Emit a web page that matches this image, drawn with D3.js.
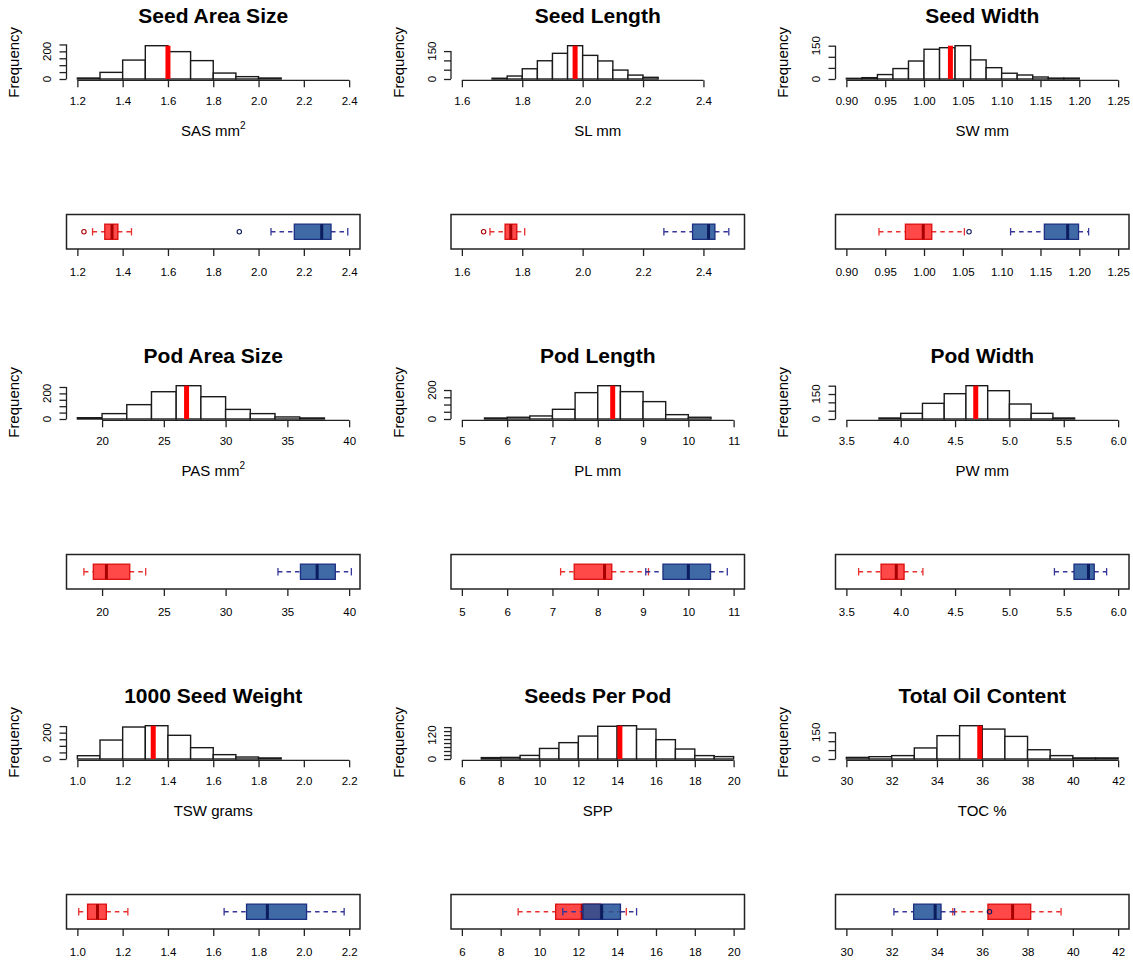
<!DOCTYPE html>
<html>
<head>
<meta charset="utf-8">
<title>Seed and pod traits</title>
<script src="https://cdn.jsdelivr.net/npm/d3@7/dist/d3.min.js"></script>
<style>
  body { margin: 0; background: #fff; }
  text { font-family: "Liberation Sans", Arial, Helvetica, sans-serif; fill: #000; }
</style>
</head>
<body>
<script>
// ---- data ----
const titles = ["Seed Area Size", "Seed Length", "Seed Width", "Pod Area Size", "Pod Length",
                "Pod Width", "1000 Seed Weight", "Seeds Per Pod", "Total Oil Content"];
const xTitles = ["SAS mm", "SL mm", "SW mm", "PAS mm", "PL mm", "PW mm", "TSW grams", "SPP", "TOC %"];
const xSuper = ["2", "", "", "2", "", "", "", "", ""];

const xLimits = [[1.2, 2.4], [1.6, 2.5], [0.9, 1.25], [18, 40], [5, 11], [3.5, 6], [1.0, 2.2], [6, 20], [30, 42]];
const xTicks = [
  [1.2, 1.4, 1.6, 1.8, 2.0, 2.2, 2.4],
  [1.6, 1.8, 2.0, 2.2, 2.4],
  [0.90, 0.95, 1.00, 1.05, 1.10, 1.15, 1.20, 1.25],
  [20, 25, 30, 35, 40],
  [5, 6, 7, 8, 9, 10, 11],
  [3.5, 4.0, 4.5, 5.0, 5.5, 6.0],
  [1.0, 1.2, 1.4, 1.6, 1.8, 2.0, 2.2],
  [6, 8, 10, 12, 14, 16, 18, 20],
  [30, 32, 34, 36, 38, 40, 42]
];
const xDecimals = [1, 1, 2, 0, 0, 1, 1, 0, 0];

const binStarts = [1.2, 1.7, 0.9, 18, 5.5, 3.8, 1.0, 7, 30];
const binWidths = [0.1, 0.05, 0.02, 2, 0.5, 0.2, 0.1, 1, 1];

const sasCounts = [7, 48, 137, 241, 198, 133, 43, 17, 7];
const slCounts = [4, 16, 55, 98, 138, 179, 127, 97, 48, 21, 9];
const swCounts = [3, 6, 20, 47, 81, 134, 141, 150, 86, 51, 26, 18, 9, 4, 4];
const pasCounts = [10, 42, 112, 213, 260, 174, 75, 42, 16, 8];
const plCounts = [7, 12, 21, 67, 182, 230, 189, 120, 30, 12];
const pwCounts = [6, 34, 94, 152, 200, 170, 90, 34, 6];
const tswCounts = [25, 144, 243, 253, 180, 86, 33, 15, 8];
const sppCounts = [7, 8, 18, 53, 82, 115, 164, 167, 150, 97, 50, 17, 12];
const tocCounts = [9, 13, 19, 62, 131, 187, 168, 127, 52, 19, 6, 6];
const counts = [sasCounts, slCounts, swCounts, pasCounts, plCounts, pwCounts, tswCounts, sppCounts, tocCounts];

const yTickSteps = [50, 50, 50, 50, 50, 50, 50, 20, 50];
const yLabels = [[0, 200], [0, 150], [0, 150], [0, 200], [0, 200], [0, 150], [0, 200], [0, 120], [0, 150]];
const means = [1.60, 1.975, 1.034, 26.84, 8.33, 4.69, 1.335, 14.14, 35.89];

// boxplot stats: [lower whisker, q1, median, q3, upper whisker]
const redBox = [
  [1.267, 1.321, 1.353, 1.379, 1.439],
  [1.693, 1.743, 1.762, 1.782, 1.808],
  [0.942, 0.976, 0.999, 1.010, 1.052],
  [18.53, 19.29, 20.35, 22.24, 23.53],
  [7.18, 7.48, 8.15, 8.31, 9.12],
  [3.613, 3.819, 3.959, 4.031, 4.204],
  [1.006, 1.045, 1.089, 1.128, 1.223],
  [8.90, 10.83, 12.2, 13.13, 14.47],
  [34.70, 36.25, 37.34, 38.14, 39.48]
];
const redOut = [[1.229], [1.672], [], [], [], [], [], [], []];
const blueBox = [
  [2.055, 2.158, 2.279, 2.320, 2.394],
  [2.269, 2.364, 2.417, 2.438, 2.484],
  [1.1115, 1.155, 1.185, 1.199, 1.212],
  [34.24, 36.06, 37.41, 38.88, 40.18],
  [9.06, 9.44, 10.0, 10.49, 10.86],
  [5.414, 5.594, 5.727, 5.780, 5.894],
  [1.648, 1.747, 1.839, 2.012, 2.178],
  [11.2, 12.24, 13.2, 14.17, 15.0],
  [32.1, 32.97, 33.92, 34.18, 34.78]
];
const blueOut = [[1.915], [], [1.058], [], [], [], [], [], [36.32]];

// ---- layout ----
const colLeft = [66.5, 451, 835.5];
const regionW = 293.5;
const histH = 33.3;
const rowStep = 340;

const groups = [
  { box: redBox, out: redOut, fill: "rgba(255,10,10,0.74)", stroke: "rgba(215,0,0,0.9)", med: "#a80000", whisk: "#e8302e" },
  { box: blueBox, out: blueOut, fill: "rgba(30,80,150,0.85)", stroke: "#1c2f80", med: "#0b1d5e", whisk: "#35359a" }
];

const svg = d3.select("body").append("svg")
  .attr("width", 1133).attr("height", 964);
svg.append("rect").attr("width", 1133).attr("height", 964).attr("fill", "#fff");

function styleAxis(sel) {
  sel.attr("font-size", 11.5).attr("font-family", "\"Liberation Sans\", Arial, sans-serif");
  sel.selectAll(".tick line").attr("stroke", "#222").attr("stroke-width", 1.3);
  sel.select(".domain").remove();
}

titles.forEach((title, i) => {
  const col = i % 3, row = Math.floor(i / 3);
  const [a, b] = xLimits[i];
  const r = b - a;
  const left = colLeft[col];
  const x = d3.scaleLinear().domain([a - 0.04 * r, b + 0.04 * r]).range([left, left + regionW]);
  const base = 79 + rowStep * row;
  const maxC = d3.max(counts[i]);
  const y = d3.scaleLinear().domain([0, maxC]).range([base, base - histH]);
  const g = svg.append("g");
  const fmt = d3.format("." + xDecimals[i] + "f");

  // title
  g.append("text")
    .attr("x", left + regionW / 2).attr("y", 23 + rowStep * row)
    .attr("text-anchor", "middle").attr("font-weight", "bold").attr("font-size", 21)
    .text(title);

  // histogram bars
  const bins = counts[i].map((c, k) => ({
    x0: binStarts[i] + k * binWidths[i],
    x1: binStarts[i] + (k + 1) * binWidths[i],
    c: c
  }));
  g.selectAll("rect.bar").data(bins).join("rect")
    .attr("class", "bar")
    .attr("x", d => x(d.x0))
    .attr("width", d => x(d.x1) - x(d.x0))
    .attr("y", d => y(d.c))
    .attr("height", d => y(0) - y(d.c))
    .attr("fill", "#fff").attr("stroke", "#1a1a1a").attr("stroke-width", 1.4);

  // mean line
  g.append("line")
    .attr("x1", x(means[i])).attr("x2", x(means[i]))
    .attr("y1", y(0)).attr("y2", y(maxC))
    .attr("stroke", "#ff0000").attr("stroke-width", 5);

  // x axis of histogram
  const axY = base + 1.3;
  const xa = g.append("g").attr("transform", `translate(0,${axY})`)
    .call(d3.axisBottom(x).tickValues(xTicks[i]).tickFormat(fmt).tickSize(7).tickPadding(10));
  styleAxis(xa);
  xa.append("line")
    .attr("x1", x(xTicks[i][0])).attr("x2", x(xTicks[i][xTicks[i].length - 1]))
    .attr("stroke", "#222").attr("stroke-width", 1.3);

  // y axis of histogram
  const yt = d3.range(0, maxC * 1.04 + 0.001, yTickSteps[i]);
  const ya = g.append("g").attr("transform", `translate(${left},0)`)
    .call(d3.axisLeft(y).tickValues(yt).tickFormat("").tickSize(7));
  styleAxis(ya);
  ya.append("line")
    .attr("y1", y(0)).attr("y2", y(yt[yt.length - 1]))
    .attr("stroke", "#222").attr("stroke-width", 1.3);
  yLabels[i].forEach(v => {
    g.append("text")
      .attr("transform", `translate(${left - 15.5},${y(v)}) rotate(-90)`)
      .attr("text-anchor", "middle").attr("font-size", 11.5)
      .text(v);
  });

  // axis titles
  g.append("text")
    .attr("transform", `translate(${left - 47.5},${base - histH / 2}) rotate(-90)`)
    .attr("text-anchor", "middle").attr("font-size", 15)
    .text("Frequency");
  const xt = g.append("text")
    .attr("x", left + regionW / 2).attr("y", 136 + rowStep * row)
    .attr("text-anchor", "middle").attr("font-size", 15)
    .text(xTitles[i]);
  if (xSuper[i]) {
    xt.append("tspan").attr("dy", -7).attr("font-size", 10).text(xSuper[i]);
  }

  // ---- boxplot ----
  const top = 214.5 + rowStep * row, h = 34.5, cy = top + h / 2;
  const bh = 7.6, ch = 3.7;
  g.append("rect")
    .attr("x", left).attr("y", top).attr("width", regionW).attr("height", h)
    .attr("fill", "none").attr("stroke", "#222").attr("stroke-width", 1.5);

  const ba = g.append("g").attr("transform", `translate(0,${top + h})`)
    .call(d3.axisBottom(x).tickValues(xTicks[i]).tickFormat(fmt).tickSize(7).tickPadding(12));
  styleAxis(ba);

  groups.forEach(gr => {
    const s = gr.box[i];
    const bg = g.append("g");
    // whiskers
    [[s[0], s[1]], [s[3], s[4]]].forEach(([p, q]) => {
      bg.append("line")
        .attr("x1", x(p)).attr("x2", x(q)).attr("y1", cy).attr("y2", cy)
        .attr("stroke", gr.whisk).attr("stroke-width", 1.3).attr("stroke-dasharray", "4.5,4");
    });
    // staples
    [s[0], s[4]].forEach(v => {
      bg.append("line")
        .attr("x1", x(v)).attr("x2", x(v)).attr("y1", cy - ch).attr("y2", cy + ch)
        .attr("stroke", gr.whisk).attr("stroke-width", 1.3);
    });
    // box
    bg.append("rect")
      .attr("x", x(s[1])).attr("width", x(s[3]) - x(s[1]))
      .attr("y", cy - bh).attr("height", 2 * bh)
      .attr("fill", gr.fill).attr("stroke", gr.stroke).attr("stroke-width", 1.3);
    // median
    bg.append("line")
      .attr("x1", x(s[2])).attr("x2", x(s[2])).attr("y1", cy - bh).attr("y2", cy + bh)
      .attr("stroke", gr.med).attr("stroke-width", 3);
    // outliers
    bg.selectAll("circle").data(gr.out[i]).join("circle")
      .attr("cx", v => x(v)).attr("cy", cy).attr("r", 2.2)
      .attr("fill", "none").attr("stroke", gr.med).attr("stroke-width", 1.1);
  });
});
</script>
</body>
</html>
